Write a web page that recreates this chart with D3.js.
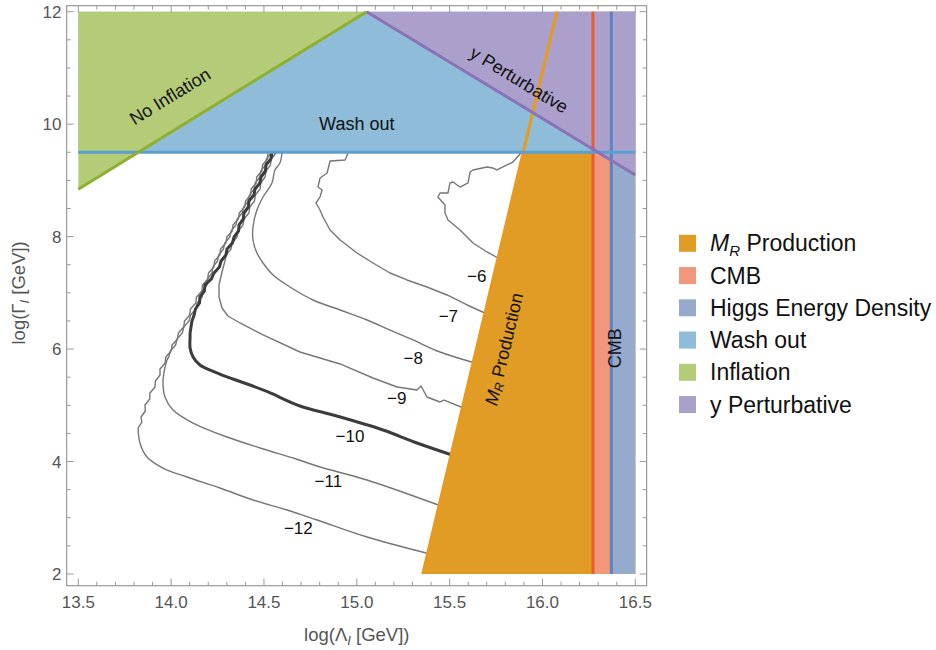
<!DOCTYPE html>
<html>
<head>
<meta charset="utf-8">
<script src="https://cdn.jsdelivr.net/npm/d3@7"></script>
<style>
  body { margin: 0; background: #fff; }
  text { font-family: "Liberation Sans", Arial, Helvetica, sans-serif; }
</style>
</head>
<body>
<svg id="chart" width="936" height="650"></svg>
<script>
// ---------- axis ticks ----------
const xTicks = [13.5, 14.0, 14.5, 15.0, 15.5, 16.0, 16.5];
const yTicks = [2, 4, 6, 8, 10, 12];

// ---------- constraint boundaries (log Λ, log Γ) ----------
const washOutLevel = 9.5;
const inflationLine = [[13.5, 8.842], [15.053, 12]];
const perturbLine = [[15.053, 12], [16.5, 9.096]];
const productionLine = [[15.355, 2], [16.077, 12]];
const cmbBound = 16.272;
const higgsBound = 16.371;

// ---------- legend ----------
const legendNames = ["MR Production", "CMB", "Higgs Energy Density", "Wash out", "Inflation", "y Perturbative"];

// ---------- contour levels and label anchors ----------
const contourLevels = [-6, -7, -8, -9, -10, -11, -12];
const contourLabelAt = [
  [15.646, 7.287], [15.493, 6.576], [15.304, 5.836], [15.215, 5.125],
  [14.963, 4.442], [14.847, 3.642], [14.685, 2.813]
];

// contour -6 (island touching the production edge)
const contourM6 = [
  [15.895, 9.540], [15.884, 9.487], [15.841, 9.327], [15.809, 9.274], [15.755, 9.185],
  [15.734, 9.220], [15.701, 9.238], [15.626, 9.185], [15.610, 9.149], [15.599, 8.954],
  [15.556, 8.882], [15.518, 8.971], [15.502, 8.954], [15.491, 8.776], [15.448, 8.776],
  [15.437, 8.705], [15.475, 8.562], [15.475, 8.420], [15.491, 8.296], [15.556, 8.118],
  [15.626, 7.887], [15.701, 7.727], [15.771, 7.602]
];
// contour -7
const contourM7 = [
  [14.953, 9.487], [14.937, 9.363], [14.856, 9.345], [14.840, 9.131], [14.802, 9.043],
  [14.791, 8.882], [14.813, 8.829], [14.802, 8.705], [14.780, 8.598], [14.802, 8.473],
  [14.818, 8.349], [14.856, 8.118], [14.910, 7.940], [15.001, 7.709], [15.087, 7.531],
  [15.179, 7.353], [15.270, 7.229], [15.378, 7.104], [15.486, 6.962], [15.594, 6.784],
  [15.701, 6.624]
];
// contour -8
const contourM8 = [
  [14.597, 9.487], [14.586, 9.309], [14.559, 9.185], [14.543, 8.954], [14.495, 8.705],
  [14.462, 8.473], [14.441, 8.171], [14.441, 7.940], [14.462, 7.709], [14.495, 7.531],
  [14.549, 7.317], [14.640, 7.104], [14.764, 6.873], [14.910, 6.695], [15.055, 6.517],
  [15.179, 6.339], [15.303, 6.162], [15.448, 5.948], [15.637, 5.753]
];
// contour -9: jagged upper branch, smooth lower branch
const contourM9Jagged = [
  [14.565, 9.487], [14.540, 9.381], [14.535, 9.274], [14.511, 9.167], [14.506, 9.060],
  [14.483, 8.954], [14.479, 8.847], [14.454, 8.741], [14.449, 8.634], [14.424, 8.527],
  [14.419, 8.420], [14.393, 8.314], [14.387, 8.207], [14.361, 8.100], [14.355, 7.993],
  [14.329, 7.887], [14.322, 7.780], [14.296, 7.673], [14.290, 7.566]
];
const contourM9 = [
  [14.290, 7.566], [14.274, 7.371], [14.258, 7.140], [14.258, 6.926], [14.274, 6.731],
  [14.306, 6.588], [14.371, 6.464], [14.495, 6.251], [14.694, 5.948], [14.910, 5.735],
  [15.087, 5.486], [15.217, 5.326], [15.324, 5.272], [15.346, 5.343], [15.378, 5.148],
  [15.448, 5.059], [15.470, 5.094], [15.588, 4.934]
];
// contour -10
const contourM10Jagged = [
  [14.543, 9.487], [14.537, 9.381], [14.511, 9.274], [14.508, 9.167], [14.484, 9.060],
  [14.478, 8.954], [14.452, 8.847], [14.446, 8.741], [14.419, 8.634], [14.416, 8.527],
  [14.392, 8.420], [14.389, 8.314], [14.366, 8.207], [14.363, 8.100], [14.339, 7.993],
  [14.330, 7.887], [14.301, 7.780], [14.295, 7.673], [14.269, 7.566], [14.260, 7.460],
  [14.231, 7.353], [14.217, 7.247], [14.182, 7.140], [14.179, 7.033], [14.155, 6.926],
  [14.153, 6.820], [14.131, 6.713], [14.124, 6.606], [14.112, 6.499], [14.107, 6.393],
  [14.102, 6.286]
];
const contourM10 = [
  [14.102, 6.286], [14.102, 6.215], [14.102, 6.019], [14.118, 5.859], [14.155, 5.717],
  [14.236, 5.592], [14.333, 5.468], [14.425, 5.361], [14.522, 5.237], [14.694, 4.988],
  [14.872, 4.828], [15.141, 4.561], [15.324, 4.330], [15.529, 4.099]
];
// contour -11
const contourM11Jagged = [
  [14.538, 9.487], [14.513, 9.381], [14.508, 9.274], [14.483, 9.167], [14.478, 9.060],
  [14.453, 8.954], [14.447, 8.847], [14.422, 8.741], [14.417, 8.634], [14.390, 8.527],
  [14.383, 8.420], [14.356, 8.314], [14.349, 8.207], [14.323, 8.100], [14.316, 7.993],
  [14.289, 7.887], [14.282, 7.780], [14.256, 7.673], [14.250, 7.566], [14.225, 7.460],
  [14.220, 7.353], [14.197, 7.247], [14.193, 7.140], [14.170, 7.033], [14.167, 6.926],
  [14.140, 6.820], [14.133, 6.713], [14.105, 6.606], [14.096, 6.499], [14.068, 6.393],
  [14.060, 6.286], [14.032, 6.180], [14.024, 6.073], [13.996, 5.966], [13.987, 5.859]
];
const contourM11 = [
  [13.987, 5.859], [13.978, 5.806], [13.962, 5.592], [13.956, 5.415], [13.967, 5.148],
  [14.010, 4.917], [14.118, 4.685], [14.301, 4.436], [14.479, 4.241], [14.673, 4.045],
  [14.802, 3.903], [15.055, 3.672], [15.454, 3.209]
];
// contour -12
const contourM12Jagged = [
  [14.522, 9.487], [14.519, 9.381], [14.492, 9.274], [14.489, 9.167], [14.461, 9.060],
  [14.458, 8.954], [14.431, 8.847], [14.428, 8.741], [14.401, 8.634], [14.396, 8.527],
  [14.367, 8.420], [14.362, 8.314], [14.333, 8.207], [14.329, 8.100], [14.300, 7.993],
  [14.295, 7.887], [14.266, 7.780], [14.262, 7.673], [14.234, 7.566], [14.230, 7.460],
  [14.201, 7.353], [14.197, 7.247], [14.169, 7.140], [14.165, 7.033], [14.137, 6.926],
  [14.133, 6.820], [14.104, 6.713], [14.100, 6.606], [14.072, 6.499], [14.068, 6.393],
  [14.039, 6.286], [14.034, 6.180], [14.005, 6.073], [14.000, 5.966], [13.971, 5.859],
  [13.968, 5.753], [13.940, 5.646], [13.940, 5.539], [13.915, 5.432], [13.913, 5.326],
  [13.886, 5.219], [13.885, 5.113], [13.859, 5.006], [13.861, 4.899], [13.838, 4.792],
  [13.842, 4.695], [13.822, 4.597]
];
const contourM12 = [
  [13.822, 4.597], [13.832, 4.330], [13.870, 4.081], [13.956, 3.885], [14.085, 3.725],
  [14.263, 3.529], [14.441, 3.316], [14.624, 3.138], [14.786, 2.960], [15.055, 2.658],
  [15.394, 2.356]
];

// ---------- layout ----------
const svg = d3.select("#chart");
const x = d3.scaleLinear().domain([13.5, 16.5]).range([78.3, 635.3]);
const y = d3.scaleLinear().domain([2, 12]).range([574, 11.7]);
const frameX = [13.4375, 16.561];
const frameY = [1.792, 12.107];

const colors = {
  production: "#e09c24", cmb: "#f1977b", higgs: "#95aacd",
  washout: "#8fbdd9", inflation: "#b4cb77", perturb: "#aba0cb"
};
const lineColors = {
  production: "#e79a1c", cmb: "#ee5a2b", higgs: "#5a84c2",
  washout: "#5a9fd0", inflation: "#8fb02f", perturb: "#8a72b8"
};

const plot = svg.append("g");
svg.append("defs").append("clipPath").attr("id", "plotClip")
  .append("rect")
  .attr("x", x(13.5)).attr("y", y(12))
  .attr("width", x(16.5) - x(13.5)).attr("height", y(2) - y(12));

// ---------- contours (drawn first, regions cover the excluded parts) ----------
const smoothLine = d3.line().x(d => x(d[0])).y(d => y(d[1])).curve(d3.curveCatmullRom.alpha(0.5));
const rawLine = d3.line().x(d => x(d[0])).y(d => y(d[1]));

const contourG = plot.append("g").attr("clip-path", "url(#plotClip)").attr("fill", "none");
const thin = { stroke: "#767676", width: 1.4 };
const thick = { stroke: "#3c3c3c", width: 3 };

function drawContour(pts, gen, style) {
  contourG.append("path").attr("d", gen(pts))
    .attr("stroke", style.stroke).attr("stroke-width", style.width)
    .attr("stroke-linejoin", "round");
}
drawContour(contourM6, rawLine, thin);
drawContour(contourM7, rawLine, thin);
drawContour(contourM8, smoothLine, thin);
drawContour(contourM12Jagged, rawLine, thin);
drawContour(contourM12, smoothLine, thin);
drawContour(contourM11Jagged, rawLine, thin);
drawContour(contourM11, smoothLine, thin);
drawContour(contourM9Jagged, rawLine, thin);
drawContour(contourM9, rawLine, thin);
drawContour(contourM10Jagged, rawLine, thick);
drawContour(contourM10, smoothLine, thick);

// ---------- excluded regions ----------
const poly = d3.line().x(d => x(d[0])).y(d => y(d[1]));
const regions = [
  { key: "production", pts: [productionLine[0], productionLine[1], [16.5, 12], [16.5, 2]] },
  { key: "cmb", pts: [[cmbBound, 2], [cmbBound, 12], [16.5, 12], [16.5, 2]] },
  { key: "higgs", pts: [[higgsBound, 2], [higgsBound, 12], [16.5, 12], [16.5, 2]] },
  { key: "washout", pts: [[13.5, washOutLevel], [13.5, 12], [16.5, 12], [16.5, washOutLevel]] },
  { key: "inflation", pts: [inflationLine[0], inflationLine[1], [13.5, 12]] },
  { key: "perturb", pts: [perturbLine[0], perturbLine[1], [16.5, 12]] }
];
plot.append("g").selectAll("path").data(regions).join("path")
  .attr("d", d => poly(d.pts) + "Z")
  .attr("fill", d => colors[d.key]);

// boundary lines
const bounds = [
  { key: "production", pts: productionLine },
  { key: "cmb", pts: [[cmbBound, 2], [cmbBound, 12]] },
  { key: "higgs", pts: [[higgsBound, 2], [higgsBound, 12]] },
  { key: "washout", pts: [[13.5, washOutLevel], [16.5, washOutLevel]] },
  { key: "inflation", pts: inflationLine },
  { key: "perturb", pts: perturbLine }
];
plot.append("g").attr("fill", "none").selectAll("path").data(bounds).join("path")
  .attr("d", d => poly(d.pts))
  .attr("stroke", d => lineColors[d.key])
  .attr("stroke-width", 3);

// ---------- contour labels ----------
plot.append("g").selectAll("text").data(contourLevels).join("text")
  .attr("x", (d, i) => x(contourLabelAt[i][0]))
  .attr("y", (d, i) => y(contourLabelAt[i][1]))
  .attr("text-anchor", "middle").attr("dominant-baseline", "central")
  .attr("font-size", 17).attr("fill", "#111")
  .text(d => "\u2212" + Math.abs(d));

// ---------- region labels ----------
function angleOf(seg) {
  return Math.atan2(y(seg[1][1]) - y(seg[0][1]), x(seg[1][0]) - x(seg[0][0])) * 180 / Math.PI;
}
function regionLabel(px, py, angle) {
  return plot.append("text")
    .attr("transform", `translate(${x(px)},${y(py)}) rotate(${angle})`)
    .attr("text-anchor", "middle").attr("dominant-baseline", "central")
    .attr("font-size", 18).attr("fill", "#111");
}
regionLabel(13.994, 10.492, angleOf(inflationLine)).text("No Inflation");
regionLabel(15.0, 10.0, 0).text("Wash out");
regionLabel(15.874, 10.785, angleOf(perturbLine)).text("y Perturbative");
const mr = regionLabel(15.794, 5.998, angleOf(productionLine));
mr.append("tspan").attr("font-style", "italic").text("M");
mr.append("tspan").attr("font-style", "italic").attr("font-size", 12.5).attr("dy", 4).text("R");
mr.append("tspan").attr("dy", -4).text(" Production");
regionLabel(16.391, 6.014, -90).text("CMB");

// ---------- frame and ticks ----------
const axisColor = "#9a9a9a";
const fx0 = x(frameX[0]), fx1 = x(frameX[1]), fy0 = y(frameY[1]), fy1 = y(frameY[0]);
svg.append("rect").attr("x", fx0).attr("y", fy0)
  .attr("width", fx1 - fx0).attr("height", fy1 - fy0)
  .attr("fill", "none").attr("stroke", axisColor).attr("stroke-width", 1.2);

const xMinor = d3.range(13.5, 16.55, 0.1).map(v => +v.toFixed(2));
const yMinor = d3.range(2, 12.01, 0.5);
const tickG = svg.append("g").attr("stroke", axisColor).attr("stroke-width", 1);
xMinor.forEach(v => {
  const major = xTicks.some(t => Math.abs(t - v) < 1e-6);
  const len = major ? 7 : 4;
  tickG.append("line").attr("x1", x(v)).attr("x2", x(v)).attr("y1", fy1).attr("y2", fy1 - len);
  tickG.append("line").attr("x1", x(v)).attr("x2", x(v)).attr("y1", fy0).attr("y2", fy0 + len);
});
yMinor.forEach(v => {
  const major = yTicks.some(t => Math.abs(t - v) < 1e-6);
  const len = major ? 7 : 4;
  tickG.append("line").attr("x1", fx0).attr("x2", fx0 + len).attr("y1", y(v)).attr("y2", y(v));
  tickG.append("line").attr("x1", fx1).attr("x2", fx1 - len).attr("y1", y(v)).attr("y2", y(v));
});

svg.append("g").selectAll("text").data(xTicks).join("text")
  .attr("x", d => x(d)).attr("y", 608)
  .attr("text-anchor", "middle").attr("font-size", 17).attr("fill", "#555")
  .text(d => d.toFixed(1));
svg.append("g").selectAll("text").data(yTicks).join("text")
  .attr("x", 61.5).attr("y", d => y(d) + 6)
  .attr("text-anchor", "end").attr("font-size", 17).attr("fill", "#555")
  .text(d => d);

// axis titles
const xt = svg.append("text").attr("x", (x(13.5) + x(16.5)) / 2).attr("y", 641)
  .attr("text-anchor", "middle").attr("font-size", 18.5).attr("fill", "#555");
xt.append("tspan").text("log(\u039B");
xt.append("tspan").attr("font-style", "italic").attr("font-size", 13).attr("dy", 4).text("I");
xt.append("tspan").attr("dy", -4).text(" [GeV])");

const yt = svg.append("text")
  .attr("transform", `translate(25,${(y(2) + y(12)) / 2}) rotate(-90)`)
  .attr("text-anchor", "middle").attr("font-size", 18.5).attr("fill", "#555");
yt.append("tspan").text("log(\u0393");
yt.append("tspan").attr("font-style", "italic").attr("font-size", 13).attr("dy", 4).text("I");
yt.append("tspan").attr("dy", -4).text(" [GeV])");

// ---------- legend ----------
const legendKeys = ["production", "cmb", "higgs", "washout", "inflation", "perturb"];
const legend = svg.append("g").attr("transform", "translate(679,243.3)");
legendKeys.forEach((k, i) => {
  const row = legend.append("g").attr("transform", `translate(0,${i * 32.25})`);
  row.append("rect").attr("x", 0).attr("y", -8.5).attr("width", 17).attr("height", 17)
    .attr("fill", colors[k]);
  const t = row.append("text").attr("x", 31).attr("y", 8)
    .attr("font-size", 23).attr("fill", "#111");
  if (k === "production") {
    t.append("tspan").attr("font-style", "italic").text("M");
    t.append("tspan").attr("font-style", "italic").attr("font-size", 15).attr("dy", 5).text("R");
    t.append("tspan").attr("dy", -5).text(" Production");
  } else {
    t.text(legendNames[i]);
  }
});
</script>
</body>
</html>
